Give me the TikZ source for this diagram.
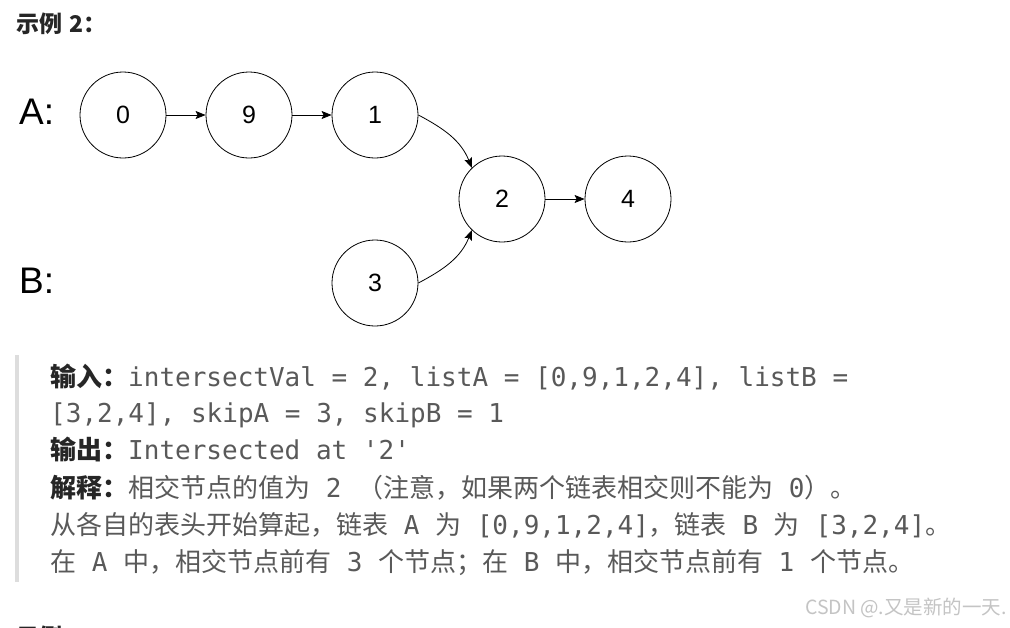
\documentclass[tikz,border=0pt]{standalone}
\usepackage{fontspec}
\setmainfont{Liberation Sans}
\newfontfamily\cjk{Noto Sans CJK SC}
\newfontfamily\code{DejaVu Sans Mono}
\usetikzlibrary{arrows.meta}

\definecolor{bodygray}{HTML}{595959}
\definecolor{headblack}{HTML}{262626}
\definecolor{markgray}{HTML}{C4C4C4}
\definecolor{bargray}{HTML}{DDDDDD}

\newcommand{\headword}[1]{{\cjk\bfseries\color{headblack}#1}}

\tikzset{
  listnode/.style={draw, circle, minimum size=86pt, inner sep=0pt, line width=0.8pt,
    font=\fontsize{25}{25}\selectfont},
  link/.style={-{Stealth[length=10pt,width=8pt,inset=2pt]}, line width=0.8pt},
  listname/.style={anchor=west, inner sep=0pt, font=\fontsize{37}{37}\selectfont},
  bodyline/.style={anchor=base west, inner sep=0pt, text=bodygray,
    font=\fontsize{26}{26}\selectfont},
  title/.style={anchor=west, inner sep=0pt, text=headblack,
    font=\cjk\bfseries\fontsize{23}{23}\selectfont},
}

\begin{document}
\begin{tikzpicture}[x=1pt,y=-1pt]
  \useasboundingbox (0,0) rectangle (1010,627);
  \clip (0,0) rectangle (1010,627);
  \fill[white] (0,0) rectangle (1010,627);

  \node[title] (t2) at (16,24) {示例\hspace{7pt}2：};

  % lists
  \node[listname] (la) at (19,112) {A:};
  \node[listname] (lb) at (19,281) {B:};
  \node[listnode] (a0) at (123,115) {0};
  \node[listnode] (a9) at (249,115) {9};
  \node[listnode] (a1) at (375,115) {1};
  \node[listnode] (c2) at (502,199) {2};
  \node[listnode] (c4) at (628,199) {4};
  \node[listnode] (b3) at (375,283) {3};

  \draw[link] (a0) -- (a9);
  \draw[link] (a9) -- (a1);
  \draw[link] (c2) -- (c4);
  \draw[link] (a1.east) to[out=-28, in=112] (c2.134);
  \draw[link] (b3.east) to[out=28, in=-112] (c2.226);

  % explanation block
  \fill[bargray] (15,355) rectangle (19,582);
  \node[bodyline] (l1) at (50,386) {\headword{输入：}{\code intersectVal = 2, listA = [0,9,1,2,4], listB =}};
  \node[bodyline] (l2) at (50,422) {{\code [3,2,4], skipA = 3, skipB = 1}};
  \node[bodyline] (l3) at (50,459) {\headword{输出：}{\code Intersected at '2'}};
  \node[bodyline] (l4) at (50,497) {\headword{解释：}{\cjk 相交节点的值为}{\code\ 2\ }{\cjk （注意，如果两个链表相交则不能为}{\code\ 0}{\cjk ）。}};
  \node[bodyline] (l5) at (50,534) {{\cjk 从各自的表头开始算起，链表}{\code\ A\ }{\cjk 为}{\code\ [0,9,1,2,4]}{\cjk ，链表}{\code\ B\ }{\cjk 为}{\code\ [3,2,4]}{\cjk 。}};
  \node[bodyline] (l6) at (50,571) {{\cjk 在}{\code\ A\ }{\cjk 中，相交节点前有}{\code\ 3\ }{\cjk 个节点；在}{\code\ B\ }{\cjk 中，相交节点前有}{\code\ 1\ }{\cjk 个节点。}};

  \node[anchor=east, inner sep=0pt, text=markgray, font=\cjk\fontsize{19.5}{19.5}\selectfont] (mark) at (1007,608) {CSDN @.又是新的一天.};
  \node[title] (t3) at (16,637) {示例\hspace{7pt}3：};
\end{tikzpicture}
\end{document}
